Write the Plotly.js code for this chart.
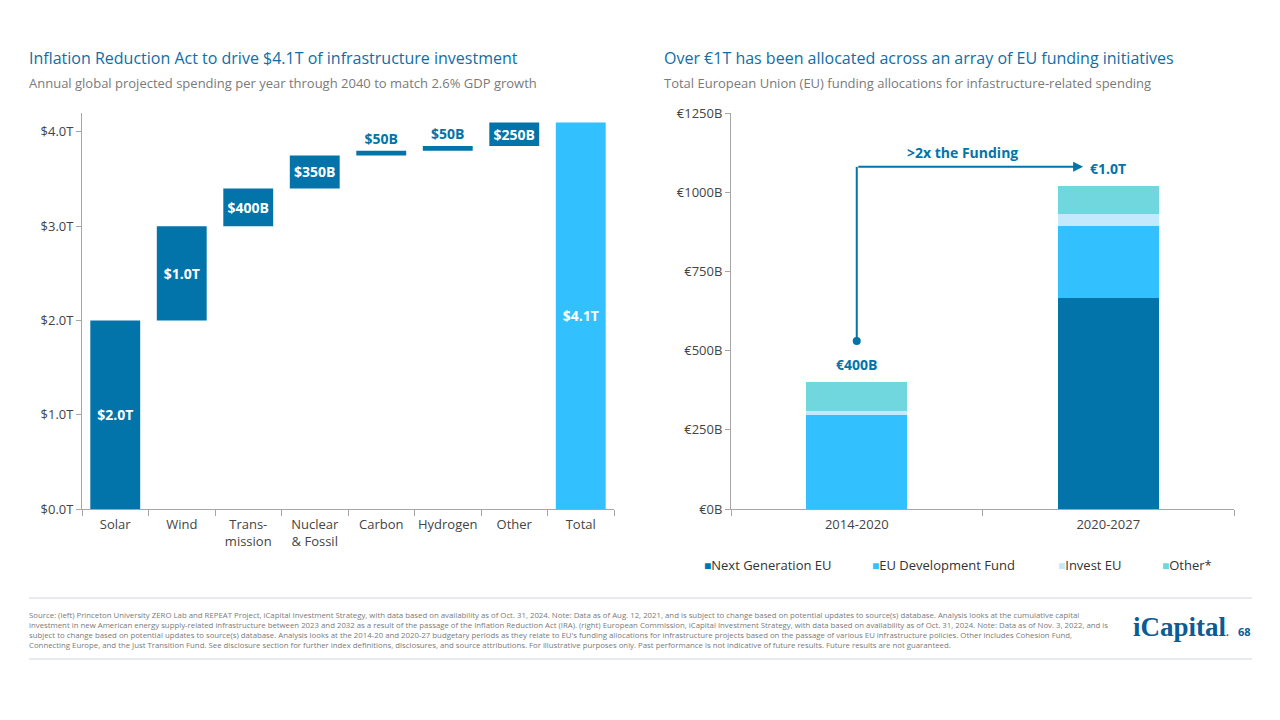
<!DOCTYPE html>
<html>
<head>
<meta charset="utf-8">
<script src="https://cdn.plot.ly/plotly-3.0.1.min.js"></script>
<style>
  html, body { margin: 0; padding: 0; background: #ffffff; }
  #chart { width: 1280px; height: 720px; }
</style>
</head>
<body>
<div id="chart"></div>
<script>
// ---------- Data ----------
const wfCategories = ['Solar', 'Wind', 'Trans-<br>mission', 'Nuclear<br>& Fossil', 'Carbon', 'Hydrogen', 'Other', 'Total'];
const wfValues = [2.0, 1.0, 0.4, 0.35, 0.05, 0.05, 0.25, 4.1];
const wfMeasures = ['relative', 'relative', 'relative', 'relative', 'relative', 'relative', 'relative', 'total'];
const wfLabels = ['$2.0T', '$1.0T', '$400B', '$350B', '$50B', '$50B', '$250B', '$4.1T'];

const euPeriods = ['2014-2020', '2020-2027'];
const nextGenEU = [0, 667];
const euDevFund = [298, 226];
const investEU = [12, 38];
const otherEU = [90, 89];
const euTotalLabels = ['€400B', '€1.0T'];
const euSeriesNames = ['Next Generation EU', 'EU Development Fund', 'Invest EU', 'Other*'];

// ---------- Style ----------
const FONT = 'Open Sans, Noto Sans, sans-serif';
const DARK = '#0274a9';
const LIGHT = '#33c0ff';
const PALE = '#c2eafc';
const TEAL = '#6fd7dd';
const TITLE = '#0f6ea6';
const euColors = [DARK, LIGHT, PALE, TEAL];
const euSeries = [nextGenEU, euDevFund, investEU, otherEU];

const W = 1280, H = 720;
const px = v => v / W;
const py = v => 1 - v / H;

const traces = [];
traces.push({
  type: 'waterfall',
  x: wfCategories,
  y: wfValues,
  measure: wfMeasures,
  text: wfLabels,
  textposition: wfValues.map((v, i) => (wfMeasures[i] === 'relative' && v < 0.2) ? 'outside' : 'inside'),
  insidetextanchor: 'middle',
  constraintext: 'none',
  cliponaxis: false,
  textfont: { family: FONT, size: 14, color: '#ffffff', weight: 'bold' },
  insidetextfont: { family: FONT, size: 14, color: '#ffffff', weight: 'bold' },
  outsidetextfont: { family: FONT, size: 14, color: DARK, weight: 'bold' },
  increasing: { marker: { color: DARK, line: { width: 0 } } },
  decreasing: { marker: { color: DARK, line: { width: 0 } } },
  totals: { marker: { color: LIGHT, line: { width: 0 } } },
  connector: { visible: false },
  xaxis: 'x', yaxis: 'y',
  hoverinfo: 'skip',
  showlegend: false
});

euSeries.forEach((s, i) => {
  traces.push({
    type: 'bar',
    name: euSeriesNames[i],
    x: euPeriods,
    y: s,
    marker: { color: euColors[i], line: { width: 0 } },
    xaxis: 'x2', yaxis: 'y2',
    hoverinfo: 'skip',
    showlegend: false
  });
});

// arrow start dot
const arrowStartY = 530, arrowTopY = 1080;
traces.push({
  type: 'scatter', mode: 'markers',
  x: [euPeriods[0]], y: [arrowStartY],
  marker: { color: DARK, size: 8 },
  xaxis: 'x2', yaxis: 'y2', hoverinfo: 'skip', showlegend: false, cliponaxis: false
});

const euTotals = euPeriods.map((_, i) => euSeries.reduce((a, s) => a + s[i], 0));

const axisCommon = {
  showgrid: false, zeroline: false,
  showline: true, linecolor: '#a6a6a6', linewidth: 1,
  ticks: 'outside', tickcolor: '#a6a6a6', ticklen: 5,
  tickfont: { family: FONT, size: 13, color: '#444' },
  fixedrange: true
};

const annotations = [
  // Titles
  { text: 'Inflation Reduction Act to drive $4.1T of infrastructure investment', x: px(27), y: py(58), xref: 'paper', yref: 'paper', xanchor: 'left', yanchor: 'middle', showarrow: false, font: { family: FONT, size: 16, color: TITLE } },
  { text: 'Annual global projected spending per year through 2040 to match 2.6% GDP growth', x: px(27), y: py(83), xref: 'paper', yref: 'paper', xanchor: 'left', yanchor: 'middle', showarrow: false, font: { family: FONT, size: 13, color: '#7a7a7a' } },
  { text: 'Over €1T has been allocated across an array of EU funding initiatives', x: px(662), y: py(58), xref: 'paper', yref: 'paper', xanchor: 'left', yanchor: 'middle', showarrow: false, font: { family: FONT, size: 16, color: TITLE } },
  { text: 'Total European Union (EU) funding allocations for infastructure-related spending', x: px(662), y: py(83), xref: 'paper', yref: 'paper', xanchor: 'left', yanchor: 'middle', showarrow: false, font: { family: FONT, size: 13, color: '#7a7a7a' } },
  // EU totals
  { text: '<b>' + euTotalLabels[0] + '</b>', x: 0, y: euTotals[0], xref: 'x2', yref: 'y2', yanchor: 'bottom', yshift: 6, showarrow: false, font: { family: FONT, size: 14, color: DARK } },
  { text: '<b>' + euTotalLabels[1] + '</b>', x: 1, y: euTotals[1], xref: 'x2', yref: 'y2', yanchor: 'bottom', yshift: 6, showarrow: false, font: { family: FONT, size: 14, color: DARK } },
  // Arrow
  { text: '', x: 0.9, y: arrowTopY, ax: 0, ay: arrowTopY, xref: 'x2', yref: 'y2', axref: 'x2', ayref: 'y2', showarrow: true, arrowhead: 2, arrowsize: 1, arrowwidth: 2, arrowcolor: DARK, standoff: 0, startstandoff: 0 },
  { text: '<b>>2x the Funding</b>', x: 0.42, y: arrowTopY, xref: 'x2', yref: 'y2', yanchor: 'bottom', yshift: 3, showarrow: false, font: { family: FONT, size: 14, color: DARK } },
  // Footer
  { text: 'Source: (left) Princeton University ZERO Lab and REPEAT Project, iCapital Investment Strategy, with data based on availability as of Oct. 31, 2024. Note: Data as of Aug. 12, 2021, and is subject to change based on potential updates to source(s) database. Analysis looks at the cumulative capital<br>investment in new American energy supply-related infrastructure between 2023 and 2032 as a result of the passage of the Inflation Reduction Act (IRA). (right) European Commission, iCapital Investment Strategy, with data based on availability as of Oct. 31, 2024. Note: Data as of Nov. 3, 2022, and is<br>subject to change based on potential updates to source(s) database. Analysis looks at the 2014-20 and 2020-27 budgetary periods as they relate to EU\'s funding allocations for infrastructure projects based on the passage of various EU infrastructure policies. Other includes Cohesion Fund,<br>Connecting Europe, and the Just Transition Fund. See disclosure section for further index definitions, disclosures, and source attributions. For illustrative purposes only. Past performance is not indicative of future results. Future results are not guaranteed.',
    x: px(27), y: py(608), xref: 'paper', yref: 'paper', xanchor: 'left', yanchor: 'top', align: 'left', showarrow: false, font: { family: FONT, size: 7.8, color: '#7a7a7a' } },
  { text: 'iCapital<span style="font-size:11px">.</span>', x: px(1131), y: py(627), xref: 'paper', yref: 'paper', xanchor: 'left', yanchor: 'middle', showarrow: false, font: { family: 'Liberation Serif, serif', size: 27, color: '#0b5c95', weight: 'bold' } },
  { text: '<b>68</b>', x: px(1236), y: py(631), xref: 'paper', yref: 'paper', xanchor: 'left', yanchor: 'middle', showarrow: false, font: { family: FONT, size: 11, color: '#0b5c95' } }
];

// Legend (manual)
const legendX = [702, 870, 1056, 1160];
euSeriesNames.forEach((n, i) => {
  annotations.push({
    text: '<span style="color:' + euColors[i] + ';font-size:12px">■</span>' + n,
    x: px(legendX[i]), y: py(565), xref: 'paper', yref: 'paper', xanchor: 'left', yanchor: 'middle',
    showarrow: false, font: { family: FONT, size: 13, color: '#333' }
  });
});

const layout = {
  width: W, height: H,
  margin: { l: 0, r: 0, t: 0, b: 0 },
  paper_bgcolor: '#ffffff', plot_bgcolor: '#ffffff',
  font: { family: FONT },
  showlegend: false,
  barmode: 'stack',
  bargap: 0.6,
  waterfallgap: 0.25,
  xaxis: Object.assign({}, axisCommon, {
    domain: [px(82), px(614)], anchor: 'y', type: 'category', tickson: 'boundaries', ticklen: 6, ticklabelstandoff: 3, tickangle: 0
  }),
  yaxis: Object.assign({}, axisCommon, {
    domain: [py(509), py(113)], anchor: 'x', range: [0, 4.2], dtick: 1, tick0: 0,
    tickprefix: '$', ticksuffix: 'T', tickformat: '.1f'
  }),
  xaxis2: Object.assign({}, axisCommon, {
    domain: [px(731), px(1234)], anchor: 'y2', type: 'category', tickson: 'boundaries', ticklen: 6, ticklabelstandoff: 3, tickangle: 0
  }),
  yaxis2: Object.assign({}, axisCommon, {
    domain: [py(509), py(113)], anchor: 'x2', range: [0, 1250], dtick: 250, tick0: 0,
    tickprefix: '€', ticksuffix: 'B'
  }),
  shapes: [
    { type: 'line', xref: 'x2', yref: 'y2', x0: 0, x1: 0, y0: arrowStartY, y1: arrowTopY, line: { color: DARK, width: 2 } },
    { type: 'line', xref: 'paper', yref: 'paper', x0: px(29), x1: px(1252), y0: py(598), y1: py(598), line: { color: '#dfe5ea', width: 1.5 } },
    { type: 'line', xref: 'paper', yref: 'paper', x0: px(29), x1: px(1252), y0: py(659), y1: py(659), line: { color: '#dfe5ea', width: 1.5 } }
  ],
  annotations: annotations
};

Plotly.newPlot('chart', traces, layout, { staticPlot: true, displayModeBar: false });
</script>
</body>
</html>
